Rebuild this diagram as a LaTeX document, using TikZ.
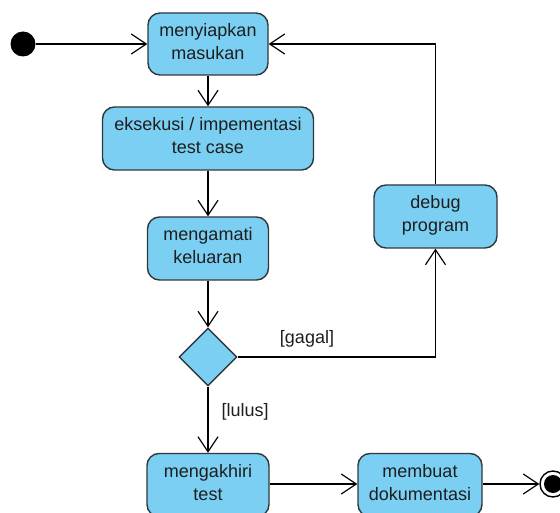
\documentclass[tikz,border=0pt]{standalone}
\usepackage{fontspec}
\setmainfont{Liberation Sans}
\usetikzlibrary{arrows.meta,shapes.geometric}
\definecolor{actfill}{RGB}{122,207,242}
\definecolor{actline}{RGB}{50,55,60}
\definecolor{txt}{RGB}{30,30,30}
\begin{document}
\begin{tikzpicture}[x=1pt,y=-1pt,
  action/.style={draw=actline,fill=actfill,line width=1.4pt,rounded corners=12pt,
    align=center,text=txt,font=\fontsize{18}{23}\selectfont,
    text depth=6pt,inner sep=0pt},
  decision/.style={draw=actline,fill=actfill,line width=1.4pt,diamond,
    minimum width=58pt,minimum height=58pt,inner sep=0pt},
  flow/.style={draw=black,line width=1.2pt,-{Straight Barb[length=15pt,width=20pt,line width=1.2pt]}},
  guard/.style={text=txt,font=\fontsize{18}{23}\selectfont,inner sep=0pt}]
\useasboundingbox (0,0) rectangle (560,513);
\clip (0,0) rectangle (560,513);

% start and end states
\node[circle,fill=black,minimum size=25pt,inner sep=0pt] (start) at (23,44) {};
\node[circle,draw=black,line width=1.4pt,fill=white,minimum size=26pt,inner sep=0pt] (finish) at (553,484) {};
\fill[black] (finish.center) circle (9pt);

% actions on the main column
\node[action,minimum width=120pt,minimum height=62pt] (prep) at (208,44) {menyiapkan\\masukan};
\node[action,minimum width=211pt,minimum height=63pt] (exec) at (208,138.5) {eksekusi / impementasi\\test case};
\node[action,minimum width=121pt,minimum height=63pt] (observe) at (208,248.5) {mengamati\\keluaran};
\node[decision] (check) at (208,357) {};
\node[action,minimum width=122pt,minimum height=63pt] (finishtest) at (208,485) {mengakhiri\\test};

% side actions
\node[action,minimum width=123pt,minimum height=63pt] (debug) at (435.5,216.5) {debug\\program};
\node[action,minimum width=124pt,minimum height=63pt] (doc) at (420,485) {membuat\\dokumentasi};

% transitions
\draw[flow] (start) -- (prep);
\draw[flow] (prep) -- (exec);
\draw[flow] (exec) -- (observe);
\draw[flow] (observe) -- (check);
\draw[flow] (check) -- node[guard,pos=0.38,right=13pt] {[lulus]} (finishtest);
\draw[flow] (check.east) -| (debug.south);
\node[guard] (gagal) at (307,339) {[gagal]};
\draw[flow] (debug.north) |- (prep.east);
\draw[flow] (finishtest.east |- 0,484) -- (doc.west |- 0,484);
\draw[flow] (doc.east |- 0,484) -- (finish);
\end{tikzpicture}
\end{document}
